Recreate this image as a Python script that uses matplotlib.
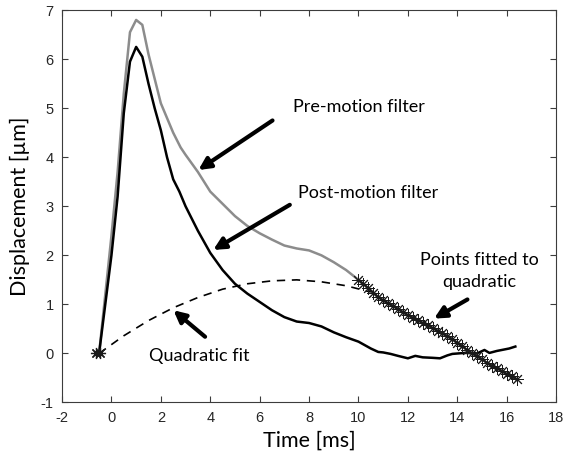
"""Displacement vs time for pre- and post-motion filtered signals,
with the quadratic fit used for motion removal."""

import matplotlib.pyplot as plt

plt.rcParams["axes.unicode_minus"] = False

# Pre-motion filter signal (before the fitted window)
t_pre = [-0.5, 0.0, 0.25, 0.5, 0.75, 1.0, 1.25, 1.5, 1.75, 2.0, 2.5, 2.8, 3.0,
         3.5, 4.0, 4.5, 5.0, 5.5, 6.0, 6.5, 7.0, 7.5, 8.0, 8.5, 9.0, 9.5]
d_pre = [0.0, 2.4, 3.7, 5.3, 6.55, 6.8, 6.7, 6.1, 5.6, 5.1, 4.5, 4.2, 4.05,
         3.7, 3.3, 3.05, 2.8, 2.6, 2.45, 2.32, 2.2, 2.14, 2.1, 2.0, 1.86, 1.7]

# Pre-motion samples used for the quadratic fit (tail of the same signal)
t_fit = [10.0, 10.2, 10.4, 10.6, 10.8, 11.0, 11.2, 11.4, 11.6, 11.8, 12.0,
         12.2, 12.4, 12.6, 12.8, 13.0, 13.2, 13.4, 13.6, 13.8, 14.0, 14.2,
         14.4, 14.6, 14.8, 15.0, 15.2, 15.4, 15.6, 15.8, 16.0, 16.2, 16.4]
d_fit = [1.50, 1.42, 1.33, 1.24, 1.15, 1.08, 1.02, 0.97, 0.91, 0.84, 0.78,
         0.73, 0.68, 0.62, 0.57, 0.52, 0.46, 0.41, 0.35, 0.29, 0.22, 0.15,
         0.07, 0.00, -0.06, -0.12, -0.19, -0.25, -0.30, -0.36, -0.42, -0.47,
         -0.53]

# Post-motion filter signal
t_post = [-0.5, 0.0, 0.25, 0.5, 0.75, 1.0, 1.25, 1.5, 1.75, 2.0, 2.25, 2.5,
          2.75, 3.0, 3.5, 4.0, 4.5, 5.0, 5.5, 6.0, 6.5, 7.0, 7.5, 8.0, 8.5,
          9.0, 9.5, 10.0, 10.5, 10.8, 11.0, 11.3, 11.6, 12.0, 12.3, 12.6,
          13.0, 13.3, 13.6, 13.8, 14.3, 14.8, 15.1, 15.3, 15.6, 15.9, 16.1,
          16.35]
d_post = [0.0, 2.0, 3.2, 4.9, 5.95, 6.25, 6.05, 5.5, 5.0, 4.55, 4.0, 3.55,
          3.3, 3.0, 2.5, 2.05, 1.7, 1.42, 1.22, 1.05, 0.88, 0.74, 0.65, 0.62,
          0.55, 0.43, 0.33, 0.24, 0.1, 0.03, 0.02, -0.01, -0.05, -0.1, -0.05,
          -0.08, -0.09, -0.1, -0.04, -0.01, 0.01, 0.0, 0.07, 0.01, 0.05, 0.08,
          0.1, 0.14]

# Quadratic fit evaluated across the record
t_quad = [-0.5, 0.5, 1.5, 2.5, 3.5, 4.5, 5.5, 6.5, 7.5, 8.5, 9.5, 10.5]
d_quad = [0.0, 0.36, 0.67, 0.93, 1.14, 1.31, 1.42, 1.48, 1.50, 1.46, 1.38,
          1.25]

# Anchor point of the fit at the onset
t_anchor = [-0.62, -0.45]
d_anchor = [0.0, 0.0]

x_ticks = [-2, 0, 2, 4, 6, 8, 10, 12, 14, 16, 18]
y_ticks = [-1, 0, 1, 2, 3, 4, 5, 6, 7]

ANNOT_FONT = ["Lato", "DejaVu Sans"]
AXIS_GRAY = "#3c3c3c"
ASTERISK = (8, 2, 0)

fig = plt.figure(figsize=(5.64, 4.61), dpi=100)
ax = fig.add_axes([0.110, 0.127, 0.876, 0.851])

ax.plot(t_pre + t_fit, d_pre + d_fit, color="#8c8c8c", linewidth=1.8,
        zorder=2)
ax.plot(t_post, d_post, color="black", linewidth=1.8, zorder=3)
ax.plot(t_quad, d_quad, color="black", linewidth=1.2,
        linestyle=(0, (5, 4)), zorder=3)
ax.plot(t_fit, d_fit, color="#1a1a1a", linewidth=1.4, marker=ASTERISK,
        markersize=9, markeredgewidth=0.7, zorder=4)
ax.plot(t_anchor, d_anchor, linestyle="none", color="#1a1a1a",
        marker=ASTERISK, markersize=8, markeredgewidth=0.9, zorder=4)

ax.set_xlim(-2, 18)
ax.set_ylim(-1, 7)
ax.set_xticks(x_ticks)
ax.set_yticks(y_ticks)
ax.tick_params(direction="in", top=True, right=True, length=4,
               width=0.8, color=AXIS_GRAY, labelsize=10.5,
               labelcolor="#262626", pad=6)
for lbl in ax.get_xticklabels() + ax.get_yticklabels():
    lbl.set_family("Liberation Sans")
for spine in ax.spines.values():
    spine.set_color(AXIS_GRAY)
    spine.set_linewidth(0.8)

ax.set_xlabel("Time [ms]", fontsize=15.5, family=ANNOT_FONT, labelpad=4)
ax.set_ylabel("Displacement [\u00b5m]", fontsize=15.5, family=ANNOT_FONT,
              labelpad=8)

arrow = dict(arrowstyle="-|>,head_length=0.7,head_width=0.35",
             color="black", linewidth=3, shrinkA=0, shrinkB=0)

ax.annotate("", xy=(3.52, 3.74), xytext=(6.52, 4.75), arrowprops=arrow)
ax.text(10.0, 5.03, "Pre-motion filter", ha="center", va="center",
        fontsize=13, family=ANNOT_FONT)

ax.annotate("", xy=(4.12, 2.11), xytext=(7.22, 3.03), arrowprops=arrow)
ax.text(7.55, 3.27, "Post-motion filter", ha="left", va="center",
        fontsize=13, family=ANNOT_FONT)

ax.annotate("", xy=(2.51, 0.88), xytext=(3.79, 0.34), arrowprops=arrow)
ax.text(1.5, -0.06, "Quadratic fit", ha="left", va="center",
        fontsize=13, family=ANNOT_FONT)

ax.annotate("", xy=(13.06, 0.71), xytext=(14.41, 1.10), arrowprops=arrow)
ax.text(14.91, 1.68, "Points fitted to\nquadratic", ha="center",
        va="center", fontsize=13, family=ANNOT_FONT, linespacing=1.4)

fig.savefig("out.png", dpi=100)
